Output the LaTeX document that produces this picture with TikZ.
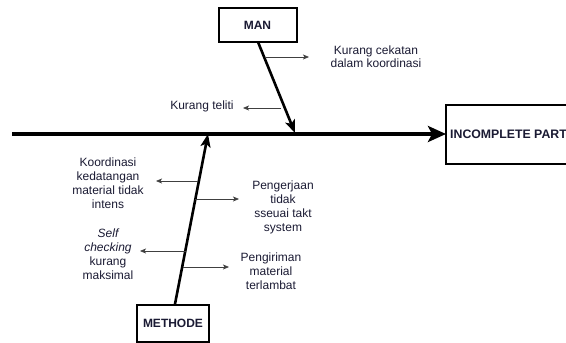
\documentclass[tikz,border=0pt]{standalone}
\usepackage{fontspec}
\setmainfont{Liberation Sans}
\usetikzlibrary{arrows.meta}
\definecolor{txt}{HTML}{1A1A33}
\tikzset{
  x=1pt,y=-1pt,
  catbox/.style={draw=black,line width=2pt,fill=white,inner sep=0pt,font=\bfseries\fontsize{12}{13}\selectfont,text=txt},
  bone/.style={line width=2.6pt,-{Stealth[length=13pt,width=10pt,inset=3pt]}},
  spine/.style={line width=3.4pt,-{Stealth[length=18pt,width=16pt,inset=4pt]}},
  sub/.style={line width=0.7pt,draw=black!75,-{Stealth[length=6pt,width=5pt,inset=1.5pt]}},
  lbl/.style={align=center,inner sep=0pt,font=\fontsize{12}{14}\selectfont,text=txt},
}
\begin{document}
\begin{tikzpicture}
\useasboundingbox (0,0) rectangle (566,343);
\clip (0,0) rectangle (566,343);
% boxes
\node[catbox,minimum width=78pt,minimum height=34pt] (man) at (257.5,25) {MAN};
\node[catbox,minimum width=72pt,minimum height=37pt] (met) at (173,323.5) {METHODE};
\draw[line width=2pt,fill=white] (446,105) rectangle (580,164);
\node[anchor=west,inner sep=0pt,font=\bfseries\fontsize{12.3}{13}\selectfont,text=txt] (eff) at (450,134) {INCOMPLETE PART};
\coordinate (effw) at (446,134);
\coordinate (s0) at (12,134);
% spine
\draw[spine] (s0) -- (effw);
% bones
\coordinate (mtop) at (258,42);
\coordinate (mbot) at (295,133);
\coordinate (btop) at (208,134);
\coordinate (bbot) at (175,304);
\draw[bone] (mtop) -- (mbot);
\draw[bone] (bbot) -- (btop);
% MAN causes
\coordinate (a1) at (265,57);
\coordinate (a1e) at (309,57);
\draw[sub] (a1) -- (a1e);
\node[lbl] (l1) at (376,57) {Kurang cekatan\\[-1pt]dalam koordinasi};
\coordinate (a2) at (281,108);
\coordinate (a2e) at (243,108);
\draw[sub] (a2) -- (a2e);
\node[lbl] (l2) at (202,106) {Kurang teliti};
% METHODE causes
\coordinate (b1) at (198,181);
\coordinate (b1e) at (156,181);
\draw[sub] (b1) -- (b1e);
\node[lbl] (l3) at (108,183) {Koordinasi\\kedatangan\\material tidak\\intens};
\coordinate (b2) at (195,199);
\coordinate (b2e) at (239,199);
\draw[sub] (b2) -- (b2e);
\node[lbl] (l4) at (283,207) {Pengerjaan\\tidak\\sseuai takt\\system};
\coordinate (b3) at (186,251);
\coordinate (b3e) at (140,251);
\draw[sub] (b3) -- (b3e);
\node[lbl] (l5) at (108,254.5) {\itshape Self\\\itshape checking\\kurang\\maksimal};
\coordinate (b4) at (183,267);
\coordinate (b4e) at (229,267);
\draw[sub] (b4) -- (b4e);
\node[lbl] (l6) at (271,271.5) {Pengiriman\\material\\terlambat};
\end{tikzpicture}
\end{document}
